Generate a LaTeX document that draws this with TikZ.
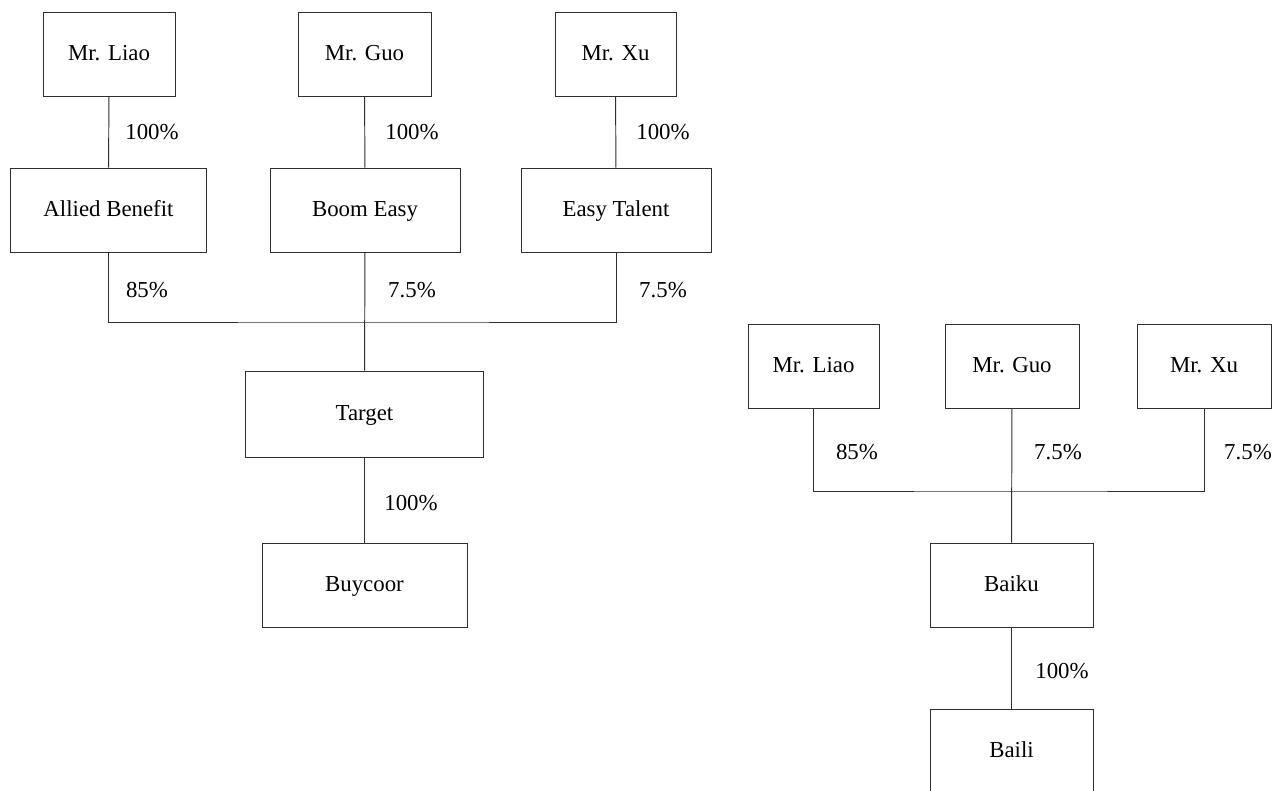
\documentclass[tikz,border=0pt]{standalone}
\usepackage{fontspec}
\setmainfont{Liberation Serif}
\usepackage{tikz}
\usetikzlibrary{calc,positioning}

\begin{document}
\begin{tikzpicture}
[x=0.02cm,y=-0.02cm]

    \definecolor{edge}{RGB}{50,44,42}
    \tikzstyle{every node}=[font=\fontsize{13}{15}\selectfont]
    \tikzstyle{firm}=[draw=edge,line width=0.55pt,rectangle,inner sep=0pt,
                      minimum height=1.68cm,text height=0.72em,text depth=0em]
    \tikzstyle{share}=[inner sep=0pt]
    \tikzstyle{link}=[draw=edge,line width=0.55pt]

    \useasboundingbox (0,0) rectangle (1275,791);
    \clip (0,0) rectangle (1275,791);

    % left structure: the owners
    \node[firm,minimum width=2.64cm] (liaoA) at (109,54.5) {Mr. Liao};
    \node[firm,minimum width=2.66cm] (guoA) at (364.5,54.5) {Mr. Guo};
    \node[firm,minimum width=2.42cm] (xuA) at (615.5,54.5) {Mr. Xu};

    % their companies
    \node[firm,minimum width=3.94cm] (allied) at (108.5,210) {Allied Benefit};
    \node[firm,minimum width=3.8cm] (boom) at (365,210) {Boom Easy};
    \node[firm,minimum width=3.8cm] (talent) at (616,210) {Easy Talent};

    \node[firm,minimum width=4.78cm,minimum height=1.72cm] (target) at (364.5,414) {Target};
    \node[firm,minimum width=4.1cm] (buycoor) at (364.5,585) {Buycoor};

    \coordinate (busA) at (364.5,322);

    \draw[link] (liaoA) -- (allied);
    \draw[link] (guoA) -- (boom);
    \draw[link] (xuA) -- (talent);
    \draw[link] (allied.south) |- (busA) -| (talent.south);
    \draw[link] (boom) -- (target);
    \draw[link] (target) -- (buycoor);

    \node[share] (p1) at (152,132) {100\%};
    \node[share] (p2) at (412,132) {100\%};
    \node[share] (p3) at (663,132) {100\%};
    \node[share] (p4) at (147,290) {85\%};
    \node[share] (p5) at (412,290) {7.5\%};
    \node[share] (p6) at (663,290) {7.5\%};
    \node[share] (p7) at (411,503) {100\%};

    % right structure
    \node[firm,minimum width=2.62cm] (liaoB) at (813.5,366.5) {Mr. Liao};
    \node[firm,minimum width=2.68cm] (guoB) at (1012,366.5) {Mr. Guo};
    \node[firm,minimum width=2.68cm] (xuB) at (1204,366.5) {Mr. Xu};

    \node[firm,minimum width=3.26cm] (baiku) at (1011.5,585) {Baiku};
    \node[firm,minimum width=3.26cm] (baili) at (1011.5,751) {Baili};

    \coordinate (busB) at (1012,491);

    \draw[link] (liaoB.south) |- (busB) -| (xuB.south);
    \draw[link] (guoB) -- (baiku);
    \draw[link] (baiku) -- (baili);

    \node[share] (q1) at (857,452) {85\%};
    \node[share] (q2) at (1058,452) {7.5\%};
    \node[share] (q3) at (1248,452) {7.5\%};
    \node[share] (q4) at (1062,671) {100\%};

\end{tikzpicture}
\end{document}
